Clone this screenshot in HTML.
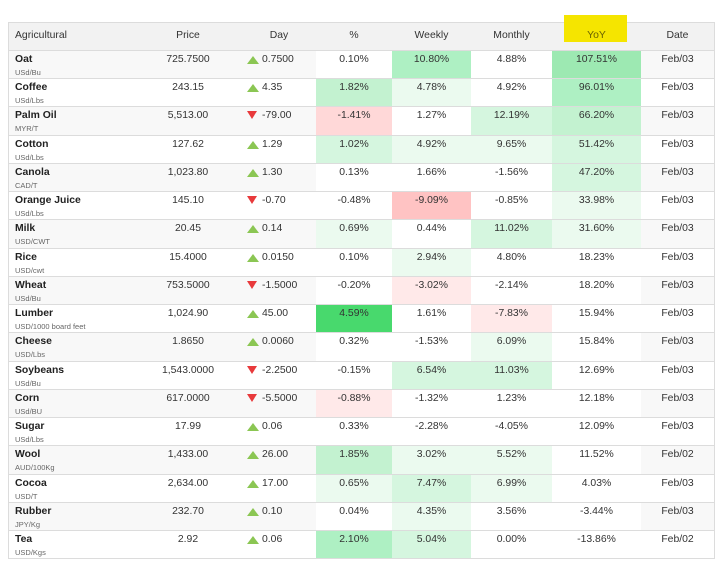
<!DOCTYPE html>
<html><head><meta charset="utf-8">
<style>
html,body{margin:0;padding:0;background:#fff;}
body{width:721px;height:565px;position:relative;overflow:hidden;font-family:"Liberation Sans",Arial,sans-serif;color:#333;}
.bl{position:absolute;background:#dcdcdc;}
.hd{position:absolute;left:9px;top:23px;width:705px;height:28px;background:#f2f2f2;border-bottom:1px solid #dcdcdc;box-sizing:border-box;}
.hd div{position:absolute;top:6.7px;line-height:12px;font-size:10.4px;color:#333;white-space:nowrap;}
.r{position:absolute;left:9px;width:705px;border-bottom:1px solid #dcdcdc;box-sizing:border-box;background:#fff;}
.s{background:#f8f8f8;}
.c{position:absolute;top:0;bottom:0;}
.t{position:absolute;left:0;right:0;top:3.4px;line-height:12px;font-size:10.4px;text-align:center;white-space:nowrap;color:#333;}
.n{position:absolute;left:6px;top:3.4px;line-height:12px;font-size:10.4px;font-weight:bold;color:#222;white-space:nowrap;}
.u{position:absolute;left:6px;top:16.6px;line-height:9px;font-size:7.5px;color:#666;white-space:nowrap;}
.p{left:125px;width:108px;}
.dv{position:absolute;left:253px;top:3.4px;line-height:12px;font-size:10.4px;color:#333;white-space:nowrap;}
.up{position:absolute;left:238px;top:4.7px;width:0;height:0;border-left:6px solid transparent;border-right:6px solid transparent;border-bottom:8px solid #8bc653;}
.dn{position:absolute;left:238px;top:4px;width:0;height:0;border-left:5.5px solid transparent;border-right:5.5px solid transparent;border-top:8.5px solid #e8393b;}
.c1{left:307px;width:76px;background:#fff;}
.c2{left:383px;width:79px;background:#fff;}
.c3{left:462px;width:81px;background:#fff;}
.c4{left:543px;width:89px;background:#fff;}
.c5{left:632px;width:73px;}
.gx{background:#48d96d !important;}
.g1{background:#9de9b2 !important;}
.g2{background:#aef0c3 !important;}
.g3{background:#c3f2d0 !important;}
.g4{background:#d5f6df !important;}
.g5{background:#ebfaef !important;}
.r1{background:#ffc3c3 !important;}
.r2{background:#ffd8d8 !important;}
.r3{background:#ffe9e9 !important;}
.yel{position:absolute;left:564px;top:15px;width:63px;height:27px;background:#f5e500;}
</style></head><body>

<div class="hd">
  <div style="left:6px;">Agricultural</div>
  <div style="left:125px;width:108px;text-align:center;">Price</div>
  <div style="left:233px;width:74px;text-align:center;">Day</div>
  <div style="left:307px;width:76px;text-align:center;">%</div>
  <div style="left:383px;width:79px;text-align:center;">Weekly</div>
  <div style="left:462px;width:81px;text-align:center;">Monthly</div>
  <div style="left:632px;width:73px;text-align:center;">Date</div>
</div>
<div class="bl" style="left:8px;top:22px;width:707px;height:1px;"></div>
<div class="bl" style="left:8px;top:22px;width:1px;height:537px;"></div>
<div class="bl" style="left:714px;top:22px;width:1px;height:537px;"></div>
<div class="yel"></div>
<div style="position:absolute;left:552px;width:89px;top:29.7px;line-height:12px;font-size:10.4px;text-align:center;color:#6a6300;">YoY</div>

<!-- Oat -->
<div class="r s" style="top:51px;height:28px;">
  <div class="n">Oat</div><div class="u">USd/Bu</div>
  <div class="c p"><div class="t">725.7500</div></div>
  <div class="up"></div><div class="dv">0.7500</div>
  <div class="c c1"><div class="t">0.10%</div></div>
  <div class="c c2 g2"><div class="t">10.80%</div></div>
  <div class="c c3"><div class="t">4.88%</div></div>
  <div class="c c4 g1"><div class="t">107.51%</div></div>
  <div class="c c5"><div class="t">Feb/03</div></div>
</div>
<!-- Coffee -->
<div class="r" style="top:79px;height:28px;">
  <div class="n">Coffee</div><div class="u">USd/Lbs</div>
  <div class="c p"><div class="t">243.15</div></div>
  <div class="up"></div><div class="dv">4.35</div>
  <div class="c c1 g3"><div class="t">1.82%</div></div>
  <div class="c c2 g5"><div class="t">4.78%</div></div>
  <div class="c c3"><div class="t">4.92%</div></div>
  <div class="c c4 g2"><div class="t">96.01%</div></div>
  <div class="c c5"><div class="t">Feb/03</div></div>
</div>
<!-- Palm Oil -->
<div class="r s" style="top:107px;height:29px;">
  <div class="n">Palm Oil</div><div class="u">MYR/T</div>
  <div class="c p"><div class="t">5,513.00</div></div>
  <div class="dn"></div><div class="dv">-79.00</div>
  <div class="c c1 r2"><div class="t">-1.41%</div></div>
  <div class="c c2"><div class="t">1.27%</div></div>
  <div class="c c3 g4"><div class="t">12.19%</div></div>
  <div class="c c4 g3"><div class="t">66.20%</div></div>
  <div class="c c5"><div class="t">Feb/03</div></div>
</div>
<!-- Cotton -->
<div class="r" style="top:136px;height:28px;">
  <div class="n">Cotton</div><div class="u">USd/Lbs</div>
  <div class="c p"><div class="t">127.62</div></div>
  <div class="up"></div><div class="dv">1.29</div>
  <div class="c c1 g4"><div class="t">1.02%</div></div>
  <div class="c c2 g5"><div class="t">4.92%</div></div>
  <div class="c c3 g5"><div class="t">9.65%</div></div>
  <div class="c c4 g4"><div class="t">51.42%</div></div>
  <div class="c c5"><div class="t">Feb/03</div></div>
</div>
<!-- Canola -->
<div class="r s" style="top:164px;height:28px;">
  <div class="n">Canola</div><div class="u">CAD/T</div>
  <div class="c p"><div class="t">1,023.80</div></div>
  <div class="up"></div><div class="dv">1.30</div>
  <div class="c c1"><div class="t">0.13%</div></div>
  <div class="c c2"><div class="t">1.66%</div></div>
  <div class="c c3"><div class="t">-1.56%</div></div>
  <div class="c c4 g4"><div class="t">47.20%</div></div>
  <div class="c c5"><div class="t">Feb/03</div></div>
</div>
<!-- Orange Juice -->
<div class="r" style="top:192px;height:28px;">
  <div class="n">Orange Juice</div><div class="u">USd/Lbs</div>
  <div class="c p"><div class="t">145.10</div></div>
  <div class="dn"></div><div class="dv">-0.70</div>
  <div class="c c1"><div class="t">-0.48%</div></div>
  <div class="c c2 r1"><div class="t">-9.09%</div></div>
  <div class="c c3"><div class="t">-0.85%</div></div>
  <div class="c c4 g5"><div class="t">33.98%</div></div>
  <div class="c c5"><div class="t">Feb/03</div></div>
</div>
<!-- Milk -->
<div class="r s" style="top:220px;height:29px;">
  <div class="n">Milk</div><div class="u">USD/CWT</div>
  <div class="c p"><div class="t">20.45</div></div>
  <div class="up"></div><div class="dv">0.14</div>
  <div class="c c1 g5"><div class="t">0.69%</div></div>
  <div class="c c2"><div class="t">0.44%</div></div>
  <div class="c c3 g4"><div class="t">11.02%</div></div>
  <div class="c c4 g5"><div class="t">31.60%</div></div>
  <div class="c c5"><div class="t">Feb/03</div></div>
</div>
<!-- Rice -->
<div class="r" style="top:249px;height:28px;">
  <div class="n">Rice</div><div class="u">USD/cwt</div>
  <div class="c p"><div class="t">15.4000</div></div>
  <div class="up"></div><div class="dv">0.0150</div>
  <div class="c c1"><div class="t">0.10%</div></div>
  <div class="c c2 g5"><div class="t">2.94%</div></div>
  <div class="c c3"><div class="t">4.80%</div></div>
  <div class="c c4"><div class="t">18.23%</div></div>
  <div class="c c5"><div class="t">Feb/03</div></div>
</div>
<!-- Wheat -->
<div class="r s" style="top:277px;height:28px;">
  <div class="n">Wheat</div><div class="u">USd/Bu</div>
  <div class="c p"><div class="t">753.5000</div></div>
  <div class="dn"></div><div class="dv">-1.5000</div>
  <div class="c c1"><div class="t">-0.20%</div></div>
  <div class="c c2 r3"><div class="t">-3.02%</div></div>
  <div class="c c3"><div class="t">-2.14%</div></div>
  <div class="c c4"><div class="t">18.20%</div></div>
  <div class="c c5"><div class="t">Feb/03</div></div>
</div>
<!-- Lumber -->
<div class="r" style="top:305px;height:28px;">
  <div class="n">Lumber</div><div class="u">USD/1000 board feet</div>
  <div class="c p"><div class="t">1,024.90</div></div>
  <div class="up"></div><div class="dv">45.00</div>
  <div class="c c1 gx"><div class="t">4.59%</div></div>
  <div class="c c2"><div class="t">1.61%</div></div>
  <div class="c c3 r3"><div class="t">-7.83%</div></div>
  <div class="c c4"><div class="t">15.94%</div></div>
  <div class="c c5"><div class="t">Feb/03</div></div>
</div>
<!-- Cheese -->
<div class="r s" style="top:333px;height:29px;">
  <div class="n">Cheese</div><div class="u">USD/Lbs</div>
  <div class="c p"><div class="t">1.8650</div></div>
  <div class="up"></div><div class="dv">0.0060</div>
  <div class="c c1"><div class="t">0.32%</div></div>
  <div class="c c2"><div class="t">-1.53%</div></div>
  <div class="c c3 g5"><div class="t">6.09%</div></div>
  <div class="c c4"><div class="t">15.84%</div></div>
  <div class="c c5"><div class="t">Feb/03</div></div>
</div>
<!-- Soybeans -->
<div class="r" style="top:362px;height:28px;">
  <div class="n">Soybeans</div><div class="u">USd/Bu</div>
  <div class="c p"><div class="t">1,543.0000</div></div>
  <div class="dn"></div><div class="dv">-2.2500</div>
  <div class="c c1"><div class="t">-0.15%</div></div>
  <div class="c c2 g4"><div class="t">6.54%</div></div>
  <div class="c c3 g4"><div class="t">11.03%</div></div>
  <div class="c c4"><div class="t">12.69%</div></div>
  <div class="c c5"><div class="t">Feb/03</div></div>
</div>
<!-- Corn -->
<div class="r s" style="top:390px;height:28px;">
  <div class="n">Corn</div><div class="u">USd/BU</div>
  <div class="c p"><div class="t">617.0000</div></div>
  <div class="dn"></div><div class="dv">-5.5000</div>
  <div class="c c1 r3"><div class="t">-0.88%</div></div>
  <div class="c c2"><div class="t">-1.32%</div></div>
  <div class="c c3"><div class="t">1.23%</div></div>
  <div class="c c4"><div class="t">12.18%</div></div>
  <div class="c c5"><div class="t">Feb/03</div></div>
</div>
<!-- Sugar -->
<div class="r" style="top:418px;height:28px;">
  <div class="n">Sugar</div><div class="u">USd/Lbs</div>
  <div class="c p"><div class="t">17.99</div></div>
  <div class="up"></div><div class="dv">0.06</div>
  <div class="c c1"><div class="t">0.33%</div></div>
  <div class="c c2"><div class="t">-2.28%</div></div>
  <div class="c c3"><div class="t">-4.05%</div></div>
  <div class="c c4"><div class="t">12.09%</div></div>
  <div class="c c5"><div class="t">Feb/03</div></div>
</div>
<!-- Wool -->
<div class="r s" style="top:446px;height:29px;">
  <div class="n">Wool</div><div class="u">AUD/100Kg</div>
  <div class="c p"><div class="t">1,433.00</div></div>
  <div class="up"></div><div class="dv">26.00</div>
  <div class="c c1 g3"><div class="t">1.85%</div></div>
  <div class="c c2 g5"><div class="t">3.02%</div></div>
  <div class="c c3 g5"><div class="t">5.52%</div></div>
  <div class="c c4"><div class="t">11.52%</div></div>
  <div class="c c5"><div class="t">Feb/02</div></div>
</div>
<!-- Cocoa -->
<div class="r" style="top:475px;height:28px;">
  <div class="n">Cocoa</div><div class="u">USD/T</div>
  <div class="c p"><div class="t">2,634.00</div></div>
  <div class="up"></div><div class="dv">17.00</div>
  <div class="c c1 g5"><div class="t">0.65%</div></div>
  <div class="c c2 g4"><div class="t">7.47%</div></div>
  <div class="c c3 g5"><div class="t">6.99%</div></div>
  <div class="c c4"><div class="t">4.03%</div></div>
  <div class="c c5"><div class="t">Feb/03</div></div>
</div>
<!-- Rubber -->
<div class="r s" style="top:503px;height:28px;">
  <div class="n">Rubber</div><div class="u">JPY/Kg</div>
  <div class="c p"><div class="t">232.70</div></div>
  <div class="up"></div><div class="dv">0.10</div>
  <div class="c c1"><div class="t">0.04%</div></div>
  <div class="c c2 g5"><div class="t">4.35%</div></div>
  <div class="c c3"><div class="t">3.56%</div></div>
  <div class="c c4"><div class="t">-3.44%</div></div>
  <div class="c c5"><div class="t">Feb/03</div></div>
</div>
<!-- Tea -->
<div class="r" style="top:531px;height:28px;">
  <div class="n">Tea</div><div class="u">USD/Kgs</div>
  <div class="c p"><div class="t">2.92</div></div>
  <div class="up"></div><div class="dv">0.06</div>
  <div class="c c1 g2"><div class="t">2.10%</div></div>
  <div class="c c2 g4"><div class="t">5.04%</div></div>
  <div class="c c3"><div class="t">0.00%</div></div>
  <div class="c c4"><div class="t">-13.86%</div></div>
  <div class="c c5"><div class="t">Feb/02</div></div>
</div>

</body></html>
